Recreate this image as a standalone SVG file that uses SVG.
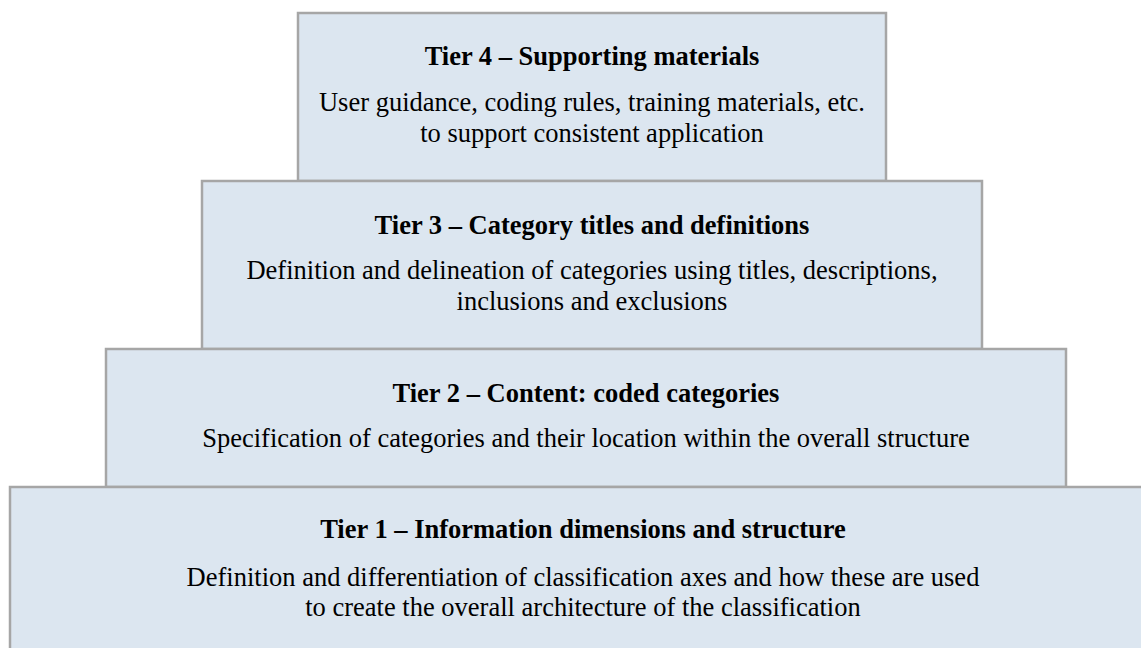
<svg xmlns="http://www.w3.org/2000/svg" width="1141" height="648" viewBox="0 0 1141 648">
  <style>
    .tier { fill: #dce6f0; stroke: #a6a6a6; stroke-width: 2.5; }
    .title { font-family: "Liberation Serif", "Times New Roman", serif; font-weight: bold; font-size: 26.5px; fill: #000; text-anchor: middle; }
    .body { font-family: "Liberation Serif", "Times New Roman", serif; font-size: 26.5px; fill: #000; text-anchor: middle; }
  </style>
  <rect width="1141" height="648" fill="#ffffff"/>

  <!-- Tier 4 (top) -->
  <g id="tier4">
    <rect class="tier" x="298" y="13" width="588" height="168"/>
    <text class="title" x="592" y="65">Tier 4 – Supporting materials</text>
    <text class="body" x="592" y="111">User guidance, coding rules, training materials, etc.</text>
    <text class="body" x="592" y="142">to support consistent application</text>
  </g>

  <!-- Tier 3 -->
  <g id="tier3">
    <rect class="tier" x="202" y="181" width="780" height="168"/>
    <text class="title" x="592" y="234">Tier 3 – Category titles and definitions</text>
    <text class="body" x="592" y="279">Definition and delineation of categories using titles, descriptions,</text>
    <text class="body" x="592" y="310">inclusions and exclusions</text>
  </g>

  <!-- Tier 2 -->
  <g id="tier2">
    <rect class="tier" x="106" y="349" width="960" height="138"/>
    <text class="title" x="586" y="402">Tier 2 – Content: coded categories</text>
    <text class="body" x="586" y="447">Specification of categories and their location within the overall structure</text>
  </g>

  <!-- Tier 1 (base, runs off the right and bottom edges) -->
  <g id="tier1">
    <rect class="tier" x="10" y="487" width="1150" height="180"/>
    <text class="title" x="583" y="538">Tier 1 – Information dimensions and structure</text>
    <text class="body" x="583" y="586">Definition and differentiation of classification axes and how these are used</text>
    <text class="body" x="583" y="616">to create the overall architecture of the classification</text>
  </g>

  <g id="connectors"></g>
</svg>
